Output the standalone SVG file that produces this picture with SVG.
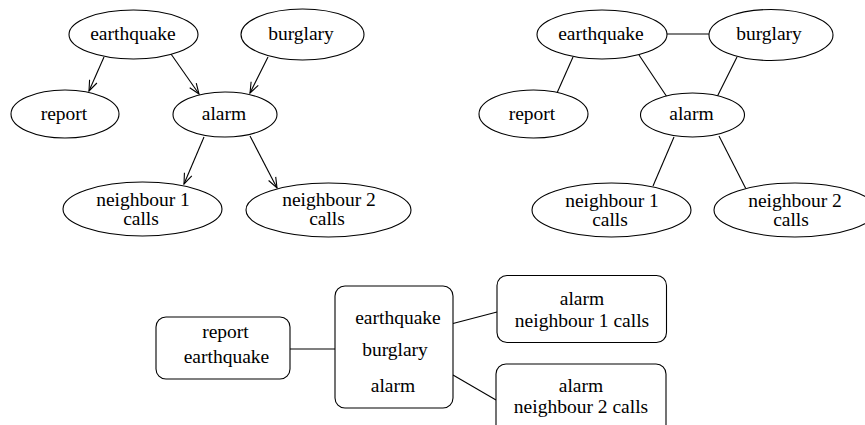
<svg xmlns="http://www.w3.org/2000/svg" width="865" height="425" viewBox="0 0 865 425">
  <style>
    .node { fill: #ffffff; stroke: #000000; stroke-width: 1.1; }
    .edge { stroke: #000000; stroke-width: 1.1; fill: none; }
    .arrow { marker-end: url(#vee); }
    text { font-family: "Liberation Serif", "Times New Roman", serif; font-size: 19.5px; fill: #000000; text-anchor: middle; }
  </style>
  <defs>
    <marker id="vee" viewBox="0 0 12 10" refX="11" refY="5" markerWidth="12" markerHeight="10" markerUnits="userSpaceOnUse" orient="auto">
      <path d="M0.5,1 L11,5 L0.5,9" fill="none" stroke="#000000" stroke-width="1.1"/>
    </marker>
  </defs>
  <rect width="865" height="425" fill="#ffffff"/>

  <!-- Directed network (left) -->
  <g id="connectors-directed">
    <line class="edge arrow" x1="104" y1="57" x2="89" y2="91"/>
    <line class="edge arrow" x1="171" y1="54" x2="199" y2="94"/>
    <line class="edge arrow" x1="268" y1="57" x2="250" y2="93"/>
    <line class="edge arrow" x1="204" y1="137" x2="184" y2="184"/>
    <line class="edge arrow" x1="250" y1="136" x2="277" y2="188"/>
  </g>
  <g id="d-earthquake">
    <ellipse class="node" cx="133.5" cy="34.5" rx="64.5" ry="24.5"/>
    <text x="133" y="40">earthquake</text>
  </g>
  <g id="d-burglary">
    <ellipse class="node" cx="302.5" cy="34.5" rx="61.5" ry="25.5"/>
    <text x="301" y="40">burglary</text>
  </g>
  <g id="d-report">
    <ellipse class="node" cx="65" cy="114" rx="54" ry="24"/>
    <text x="64" y="120">report</text>
  </g>
  <g id="d-alarm">
    <ellipse class="node" cx="225" cy="114.5" rx="52" ry="22.5"/>
    <text x="224" y="120">alarm</text>
  </g>
  <g id="d-neighbour1">
    <ellipse class="node" cx="142.5" cy="209" rx="79.5" ry="27"/>
    <text x="143" y="206">neighbour 1</text>
    <text x="141" y="225">calls</text>
  </g>
  <g id="d-neighbour2">
    <ellipse class="node" cx="328.5" cy="210" rx="82.5" ry="27"/>
    <text x="329" y="206">neighbour 2</text>
    <text x="327" y="225">calls</text>
  </g>

  <!-- Moral graph (right) -->
  <g id="connectors-moral">
    <line class="edge" x1="667" y1="34" x2="709" y2="34"/>
    <line class="edge" x1="573" y1="57" x2="557" y2="93"/>
    <line class="edge" x1="639" y1="55" x2="667" y2="97"/>
    <line class="edge" x1="737" y1="57" x2="717" y2="97"/>
    <line class="edge" x1="674" y1="137" x2="653" y2="186"/>
    <line class="edge" x1="719" y1="136" x2="746" y2="189"/>
  </g>
  <g id="m-earthquake">
    <ellipse class="node" cx="602" cy="34.5" rx="65" ry="24.5"/>
    <text x="601" y="40">earthquake</text>
  </g>
  <g id="m-burglary">
    <ellipse class="node" cx="771" cy="35" rx="62" ry="25.5"/>
    <text x="769" y="40">burglary</text>
  </g>
  <g id="m-report">
    <ellipse class="node" cx="533.5" cy="114" rx="54.5" ry="24"/>
    <text x="532" y="120">report</text>
  </g>
  <g id="m-alarm">
    <ellipse class="node" cx="692.5" cy="115" rx="52" ry="22"/>
    <text x="691.5" y="120">alarm</text>
  </g>
  <g id="m-neighbour1">
    <ellipse class="node" cx="611.5" cy="210" rx="79.5" ry="27"/>
    <text x="612" y="206.5">neighbour 1</text>
    <text x="610" y="226">calls</text>
  </g>
  <g id="m-neighbour2">
    <ellipse class="node" cx="795" cy="210" rx="81" ry="27"/>
    <text x="795" y="206.5">neighbour 2</text>
    <text x="791" y="226">calls</text>
  </g>

  <!-- Junction tree (bottom) -->
  <g id="connectors-tree">
    <line class="edge" x1="290" y1="349" x2="335" y2="349"/>
    <line class="edge" x1="453" y1="323.5" x2="497" y2="312"/>
    <line class="edge" x1="453" y1="375" x2="496" y2="400"/>
  </g>
  <g id="t-report-earthquake">
    <rect class="node" x="156" y="317" width="134" height="62" rx="10" ry="10"/>
    <text x="225.5" y="338">report</text>
    <text x="226.5" y="363">earthquake</text>
  </g>
  <g id="t-earthquake-burglary-alarm">
    <rect class="node" x="335" y="286" width="118" height="122" rx="10" ry="10"/>
    <text x="398" y="324">earthquake</text>
    <text x="395" y="356">burglary</text>
    <text x="393" y="392">alarm</text>
  </g>
  <g id="t-alarm-neighbour1">
    <rect class="node" x="497" y="275.5" width="169.5" height="67" rx="10" ry="10"/>
    <text x="582" y="305">alarm</text>
    <text x="582" y="327">neighbour 1 calls</text>
  </g>
  <g id="t-alarm-neighbour2">
    <rect class="node" x="496" y="364" width="170" height="72" rx="10" ry="10"/>
    <text x="581" y="392">alarm</text>
    <text x="581" y="413">neighbour 2 calls</text>
  </g>
</svg>
